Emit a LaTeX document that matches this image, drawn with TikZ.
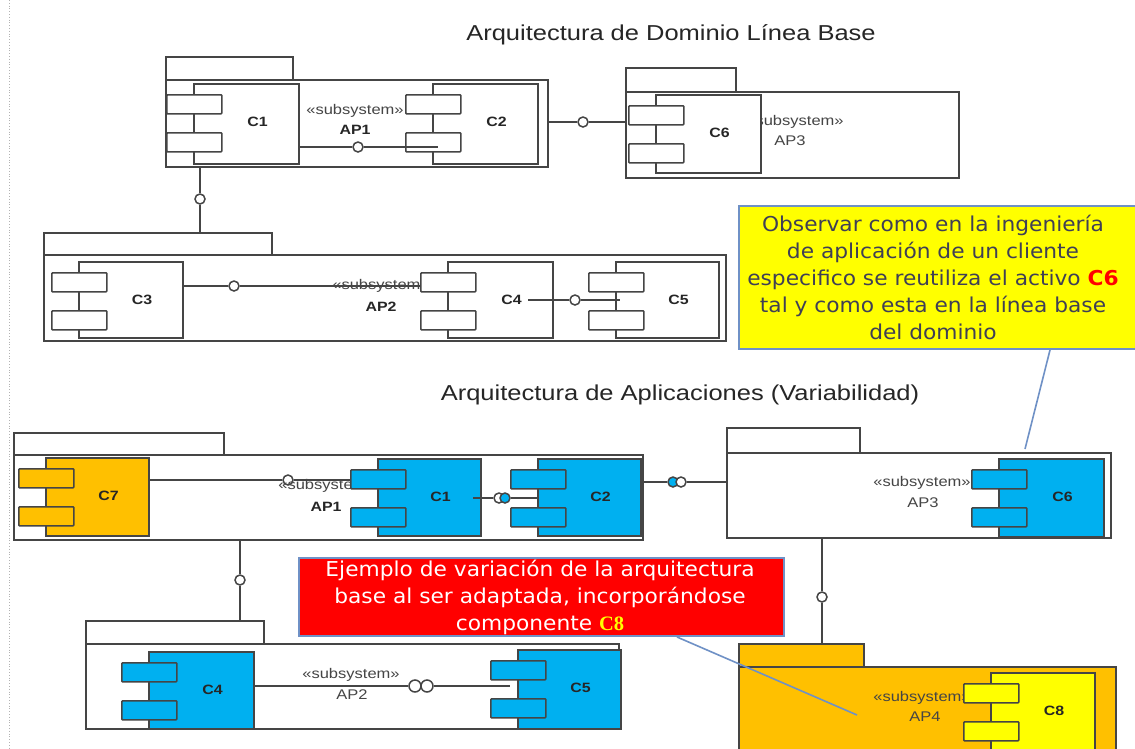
\documentclass[tikz,border=0pt]{standalone}
\usepackage{fontspec}
\newfontfamily\af{Liberation Sans}[FakeStretch=1.18]
\newfontfamily\nf{DejaVu Sans}[FakeStretch=1.06]
\newfontfamily\sr{Liberation Serif}
\usetikzlibrary{calc}
\definecolor{ln}{HTML}{454545}
\definecolor{cblue}{HTML}{00B0F0}
\definecolor{corange}{HTML}{FFC000}
\definecolor{cyel}{HTML}{FFFF00}
\definecolor{cred}{HTML}{FF0000}
\definecolor{nbord}{HTML}{6F91C6}
\definecolor{ntext}{HTML}{3F3F55}
\tikzset{
 box/.style={draw=ln, line width=1.6pt, fill=white, inner sep=0pt, anchor=north west},
 port/.style={box, minimum width=55pt, minimum height=19pt, rounded corners=0.8pt},
 lolli/.style={circle, draw=ln, line width=1.5pt, fill=white, inner sep=0pt, minimum size=10pt},
 wire/.style={draw=ln, line width=1.5pt},
 clabel/.style={font=\af\bfseries\fontsize{13.5}{15}\selectfont, text=black!85},
 stereo/.style={font=\af\fontsize{14}{16}\selectfont, text=ln},
 ttl/.style={font=\af\fontsize{21.6}{25}\selectfont, text=black!85},
 note/.style={draw=nbord, line width=2pt, inner sep=0pt, anchor=north west},
 ntxt/.style={font=\nf\fontsize{20.5}{27}\selectfont, align=center},
 nline/.style={draw=nbord, line width=1.6pt},
}
\newcommand\pkg[8]{%
 \node[box, fill=#8, minimum width=#4pt, minimum height=#5pt] (#1t) at (#2,#3) {};
 \node[box, fill=#8, minimum width=#6pt, minimum height=#7pt] (#1) at (#2,#3+#5) {};
}
\newcommand\compo[7]{%
 \node[box, fill=#6, minimum width=#4pt, minimum height=#5pt] (#1) at (#2,#3) {};
 \node[port, fill=#6] (#1a) at (#2-27,#3+11) {};
 \node[port, fill=#6] (#1b) at (#2-27,#3+49) {};
 \node[clabel] (#1l) at (#2+#4/2+12,#3+39) {#7};
}
\begin{document}
\begin{tikzpicture}[x=1pt,y=-1pt]
\useasboundingbox (0,0) rectangle (1135,748);
\clip (0,0) rectangle (1135,748);
\fill[white] (0,0) rectangle (1135,748);
\draw[gray!60, dotted, line width=0.8pt] (9,0) -- (9,748);

\node[ttl] (t1) at (671,35) {Arquitectura de Dominio Línea Base};
\node[ttl] (t2) at (680,395) {Arquitectura de Aplicaciones (Variabilidad)};

% ---------- top AP1
\pkg{pa}{165}{56}{127}{23}{382}{87}{white}
\node[stereo] (pas) at (355,111) {«subsystem»};
\node[clabel] (pan) at (355,130) {AP1};
\compo{ca}{193}{83}{105}{80}{white}{C1}
\compo{cb}{432}{83}{105}{80}{white}{C2}
\coordinate (ka) at (438,147);
\node[lolli] (la) at (358,147) {};
\draw[wire] (ca.east |- la) -- (la) -- (ka);

% ---------- top AP3
\pkg{pc}{625}{67}{110}{24}{333}{86}{white}
\node[stereo] (pcs) at (795,122) {«subsystem»};
\node[stereo] (pcn) at (790,141) {AP3};
\compo{cf}{655}{94}{105}{78}{white}{C6}
\node[lolli] (lb) at (583,122) {};
\draw[wire] (pa.east |- lb) -- (lb) -- (pc.west |- lb);

% ---------- top AP2
\pkg{pb}{43}{232}{228}{22}{682}{86}{white}
\node[lolli] (le) at (200,199) {};
\draw[wire] (pa.south -| le) -- (le) -- (pbt.north -| le);
\compo{cc}{78}{261}{104}{76}{white}{C3}
\coordinate (kc) at (428,286);
\node[lolli] (lc) at (234,286) {};
\draw[wire] (cc.east |- lc) -- (lc) -- (kc);
\node[stereo] (pbs) at (381,286) {«subsystem»};
\node[clabel] (pbn) at (381,307) {AP2};
\compo{cd}{447}{261}{105}{76}{white}{C4}
\compo{ce}{615}{261}{103}{76}{white}{C5}
\coordinate (kd1) at (528,300);
\coordinate (kd2) at (620,300);
\node[lolli] (ld) at (575,300) {};
\draw[wire] (kd1) -- (ld) -- (kd2);

% ---------- yellow note
\node[note, fill=cyel, minimum width=420pt, minimum height=143pt] (ny) at (738,205) {};
\node[ntxt, text=ntext] (nyt) at (933,277) {Observar como en la ingeniería\\de aplicación de un cliente\\especifico se reutiliza el activo \textcolor{cred}{\bfseries C6}\\tal y como esta en la línea base\\del dominio};

% ---------- bottom AP1
\pkg{qa}{13}{432}{210}{22}{629}{85}{white}
\compo{qg}{45}{457}{103}{78}{corange}{C7}
\coordinate (kf) at (352,480);
\node[lolli] (lf) at (288,480) {};
\draw[wire] (qg.east |- lf) -- (lf) -- (kf);
\node[stereo] (qas) at (327,486) {«subsystem»};
\node[clabel] (qan) at (326,507) {AP1};
\compo{qb}{377}{458}{103}{77}{cblue}{C1}
\compo{qc}{537}{458}{103}{77}{cblue}{C2}
\coordinate (kg1) at (473,498);
\coordinate (kg2) at (537,498);
\node[lolli] (sw1) at (499,498) {};
\node[lolli, fill=cblue] (sb1) at (505,498) {};
\draw[wire] (kg1) -- (sw1);
\draw[wire] (sb1) -- (kg2);

% ---------- bottom AP3
\pkg{qd}{726}{427}{133}{25}{384}{85}{white}
\node[stereo] (qds) at (922,483) {«subsystem»};
\node[stereo] (qdn) at (923,503) {AP3};
\compo{qf}{998}{458}{105}{78}{cblue}{C6}
\node[lolli, fill=cblue] (sb2) at (673,482) {};
\node[lolli] (sw2) at (681,482) {};
\draw[wire] (qa.east |- sb2) -- (sb2);
\draw[wire] (sw2) -- (qd.west |- sw2);
\coordinate (ay) at (1025,449);
\draw[nline] (ny.south west) ++(312,0) -- (ay);

% ---------- bottom AP2
\pkg{qe}{85}{620}{178}{23}{533}{85}{white}
\node[lolli] (li) at (240,580) {};
\draw[wire] (qa.south -| li) -- (li) -- (qet.north -| li);
\node[stereo] (qes) at (351,675) {«subsystem»};
\node[stereo] (qen) at (352,695) {AP2};
\compo{qh}{148}{651}{105}{77}{cblue}{C4}
\compo{qi}{517}{649}{103}{79}{cblue}{C5}
\coordinate (kh) at (510,686);
\node[lolli, minimum size=12pt] (lh1) at (415,686) {};
\node[lolli, minimum size=12pt] (lh2) at (427,686) {};
\draw[wire] (qh.east |- lh1) -- (lh1);
\draw[wire] (lh2) -- (kh);

% ---------- AP4
\pkg{qj}{738}{643}{125}{23}{377}{100}{corange}
\node[stereo] (qjs) at (922,698) {«subsystem»};
\node[stereo] (qjn) at (925,717) {AP4};
\compo{qk}{990}{672}{104}{100}{cyel}{C8}
\node[lolli] (lj) at (822,597) {};
\draw[wire] (qd.south -| lj) -- (lj) -- (qjt.north -| lj);

% ---------- red note
\node[note, fill=cred, minimum width=485pt, minimum height=78pt] (nr) at (298,557) {};
\node[ntxt, text=white] (nrt) at (540,597) {Ejemplo de variación de la arquitectura\\base al ser adaptada, incorporándose\\componente \textcolor{cyel}{\sr\bfseries C8}};
\coordinate (ar) at (857,715);
\draw[nline] (nr.south west) ++(379,0) -- (ar);
\end{tikzpicture}
\end{document}
